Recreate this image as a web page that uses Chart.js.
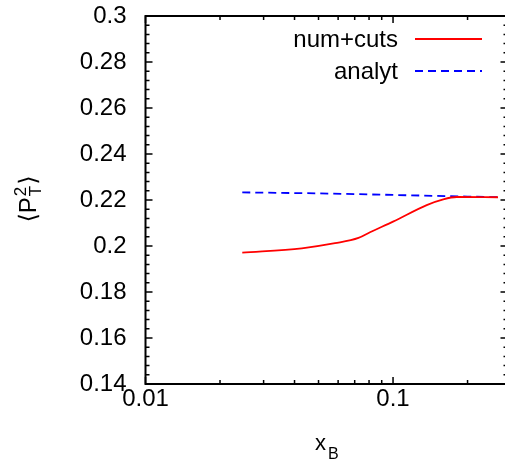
<!Doctype html>
<html>
  <head>
    <meta charset="utf-8"/>
    <style type="text/css">
      body {
        margin: 0px;
        padding: 0px;
        overflow: hidden;
        background: #ffffff;
      }
      #wrap {
        width: 520px;
        height: 466px;
      }
    </style>
    <script src="https://cdn.jsdelivr.net/npm/chart.js@4.4.1/dist/chart.umd.min.js"></script>
  </head>
  <body>
    <div id="wrap"><canvas id="c" width="520" height="466"></canvas></div>
    <script>
      // values
      var numX = [0.0246, 0.0428, 0.0583, 0.0725, 0.0807, 0.100, 0.1368, 0.1596, 0.1808, 0.2655];
      var numY = [0.1971, 0.1990, 0.2012, 0.2035, 0.2060, 0.2106, 0.2178, 0.2203, 0.2213, 0.2212];
      var anaX = [0.0246, 0.05, 0.1, 0.2, 0.2655];
      var anaY = [0.2233, 0.2229, 0.2222, 0.2215, 0.2212];
      var seriesNames = ["num+cuts", "analyt"];
      var xTicks = [0.01, 0.02, 0.03, 0.04, 0.05, 0.06, 0.07, 0.08, 0.09, 0.1, 0.2];
      var xLabels = {"0.01": "0.01", "0.1": "0.1"};

      var FONT = '"Liberation Sans", Arial, "DejaVu Sans", sans-serif';

      function pts(xs, ys) {
        return xs.map(function(x, i) { return {x: x, y: ys[i]}; });
      }

      // gnuplot-like frame, inward ticks, key and axis titles
      var gnuplotLook = {
        id: 'gnuplotLook',
        afterDraw: function(chart) {
          var ctx = chart.ctx, a = chart.chartArea;
          var xs = chart.scales.x, ys = chart.scales.y;
          ctx.save();
          ctx.strokeStyle = '#000';
          ctx.lineWidth = 1.5;
          // x ticks, bottom and top
          xTicks.forEach(function(v) {
            var px = xs.getPixelForValue(v);
            var len = xLabels[String(v)] ? 7 : 4;
            ctx.beginPath();
            ctx.moveTo(px, a.bottom); ctx.lineTo(px, a.bottom - len);
            ctx.moveTo(px, a.top); ctx.lineTo(px, a.top + len);
            ctx.stroke();
          });
          // y ticks, left and right, minor every 0.004
          for (var k = 0; k <= 40; k++) {
            var v = ys.min + k * 0.004;
            var py = ys.getPixelForValue(v);
            var len2 = (k % 5 === 0) ? 7 : 4;
            ctx.beginPath();
            ctx.moveTo(a.left, py); ctx.lineTo(a.left + len2, py);
            ctx.moveTo(a.right, py); ctx.lineTo(a.right - len2, py);
            ctx.stroke();
          }
          // frame
          ctx.lineWidth = 2;
          ctx.strokeRect(a.left, a.top, a.right - a.left, a.bottom - a.top);

          // key
          ctx.font = '24px ' + FONT;
          ctx.fillStyle = '#000';
          ctx.textAlign = 'right';
          ctx.textBaseline = 'alphabetic';
          chart.data.datasets.forEach(function(ds, i) {
            var ly = 39 + i * 32;
            ctx.fillText(ds.label, 398, ly + 8);
            ctx.save();
            ctx.strokeStyle = ds.borderColor;
            ctx.lineWidth = ds.borderWidth;
            ctx.setLineDash(ds.borderDash || []);
            ctx.beginPath();
            ctx.moveTo(415, ly); ctx.lineTo(482, ly);
            ctx.stroke();
            ctx.restore();
          });

          // x title
          ctx.textAlign = 'left';
          ctx.font = '22px ' + FONT;
          ctx.fillText('x', 315, 450);
          ctx.font = '16px ' + FONT;
          ctx.fillText('B', 328, 459);

          // y title
          ctx.save();
          ctx.translate(36, 200);
          ctx.rotate(-Math.PI / 2);
          ctx.font = '24px ' + FONT;
          var w1 = ctx.measureText('\u27E8P').width;
          ctx.font = '17px ' + FONT;
          var w2 = Math.max(ctx.measureText('2').width, ctx.measureText('T').width);
          ctx.font = '24px ' + FONT;
          var w3 = ctx.measureText('\u27E9').width;
          var x0 = -(w1 + w2 + w3) / 2;
          ctx.fillText('\u27E8P', x0, 0);
          ctx.font = '17px ' + FONT;
          ctx.fillText('2', x0 + w1 + 1, -10);
          ctx.fillText('T', x0 + w1 + 1, 5);
          ctx.font = '24px ' + FONT;
          ctx.fillText('\u27E9', x0 + w1 + w2 + 2, 0);
          ctx.restore();
          ctx.restore();
        }
      };

      var chart = new Chart(document.getElementById('c'), {
        type: 'line',
        data: {
          datasets: [{
            label: seriesNames[0],
            data: pts(numX, numY),
            borderColor: '#ff0000',
            borderWidth: 1.8,
            pointRadius: 0,
            cubicInterpolationMode: 'monotone',
            fill: false
          }, {
            label: seriesNames[1],
            data: pts(anaX, anaY),
            borderColor: '#0000ff',
            borderWidth: 1.8,
            borderDash: [8, 5],
            pointRadius: 0,
            fill: false
          }]
        },
        options: {
          responsive: false,
          animation: false,
          layout: {padding: {left: 0, top: 16, right: 12.5, bottom: 0}},
          plugins: {legend: {display: false}, tooltip: {enabled: false}},
          scales: {
            x: {
              type: 'logarithmic',
              min: 0.01,
              max: 0.29,
              grid: {display: false, drawTicks: false},
              border: {display: false},
              afterBuildTicks: function(s) {
                s.ticks = xTicks.map(function(v) { return {value: v}; });
              },
              ticks: {
                color: '#000',
                font: {family: FONT, size: 24},
                padding: 1,
                autoSkip: false,
                maxRotation: 0,
                callback: function(v) { return xLabels[String(v)] || ''; }
              },
              afterFit: function(s) {
                s.height = 82;
                s.paddingLeft = 0; s.paddingRight = 0;
              }
            },
            y: {
              type: 'linear',
              min: 0.14,
              max: 0.3,
              grid: {display: false, drawTicks: false},
              border: {display: false},
              ticks: {
                stepSize: 0.02,
                color: '#000',
                font: {family: FONT, size: 24},
                padding: 19,
                callback: function(v) { return String(Number(v.toFixed(2))); }
              },
              afterFit: function(s) {
                s.width = 145.5;
                s.paddingTop = 0; s.paddingBottom = 0;
              }
            }
          }
        },
        plugins: [gnuplotLook]
      });
    </script>
  </body>
</html>
